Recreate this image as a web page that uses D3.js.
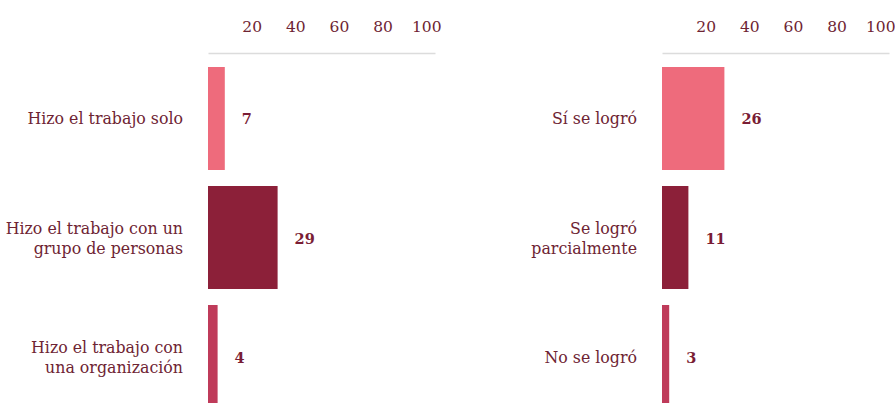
<!DOCTYPE html>
<html>
  <head>
    <meta charset="utf-8">
    <title>Trabajo y logro</title>
    <script src="https://d3js.org/d3.v7.min.js"></script>
    <style>
      body { margin: 0; background: #fff; }
      svg { display: block; font-family: "DejaVu Serif", serif; }
      .tick text { fill: #6e2433; font-size: 15.5px; }
      .cat { fill: #6e2433; font-size: 15.8px; }
      .val { fill: #7a1d35; font-size: 14.5px; font-weight: bold; }
    </style>
  </head>
  <body>
    <svg id="chart" width="895" height="403"></svg>
    <script>
      // chart data
      const leftLabels = [["Hizo el trabajo solo"], ["Hizo el trabajo con un", "grupo de personas"], ["Hizo el trabajo con", "una organización"]];
      const leftValues = [7, 29, 4];
      const rightLabels = [["Sí se logró"], ["Se logró", "parcialmente"], ["No se logró"]];
      const rightValues = [26, 11, 3];
      const tickValues = [20, 40, 60, 80, 100];
      const barColors = ["#ee6b7c", "#8c2039", "#bf3b5a"];

      const chart = d3.select("#chart");
      // axis scale (labels) and bar scale
      const x = d3.scaleLinear().domain([0, 104]).range([0, 227]);
      const barX = d3.scaleLinear().domain([0, 100]).range([0, 240]);
      const y = d3.scaleBand().domain([0, 1, 2]).range([67, 408]).paddingInner(0.1345).paddingOuter(0);

      function panel(offset, labels, values) {
        const g = chart.append("g").attr("transform", "translate(" + offset + ",0)");
        // axis
        const axis = d3.axisTop(x).tickValues(tickValues).tickSize(0).tickPadding(21);
        const ag = g.append("g").attr("transform", "translate(0,53)").call(axis)
          .attr("font-family", null).attr("font-size", null);
        ag.select(".domain").attr("stroke", "#dcdcdc").attr("stroke-width", 1.5);
        // bars
        g.selectAll(".bar")
          .data(values)
          .enter().append("rect")
            .attr("class", "bar")
            .attr("x", 0)
            .attr("y", function(d, i) { return y(i); })
            .attr("width", function(d) { return barX(d); })
            .attr("height", y.bandwidth())
            .attr("fill", function(d, i) { return barColors[i]; });
        // values
        g.selectAll(".val")
          .data(values)
          .enter().append("text")
            .attr("class", "val")
            .attr("x", function(d) { return barX(d) + 17; })
            .attr("y", function(d, i) { return y(i) + y.bandwidth() / 2 + 6; })
            .text(function(d) { return d; });
        // category labels
        const cats = g.selectAll(".cat")
          .data(labels)
          .enter().append("text")
            .attr("class", "cat")
            .attr("text-anchor", "end")
            .attr("y", function(d, i) { return y(i) + y.bandwidth() / 2 + 6 - (d.length - 1) * 10; });
        cats.selectAll("tspan")
          .data(function(d) { return d; })
          .enter().append("tspan")
            .attr("x", -25)
            .attr("dy", function(d, i) { return i ? 20 : 0; })
            .text(function(d) { return d; });
      }

      panel(208, leftLabels, leftValues);
      panel(662, rightLabels, rightValues);
    </script>
  </body>
</html>
